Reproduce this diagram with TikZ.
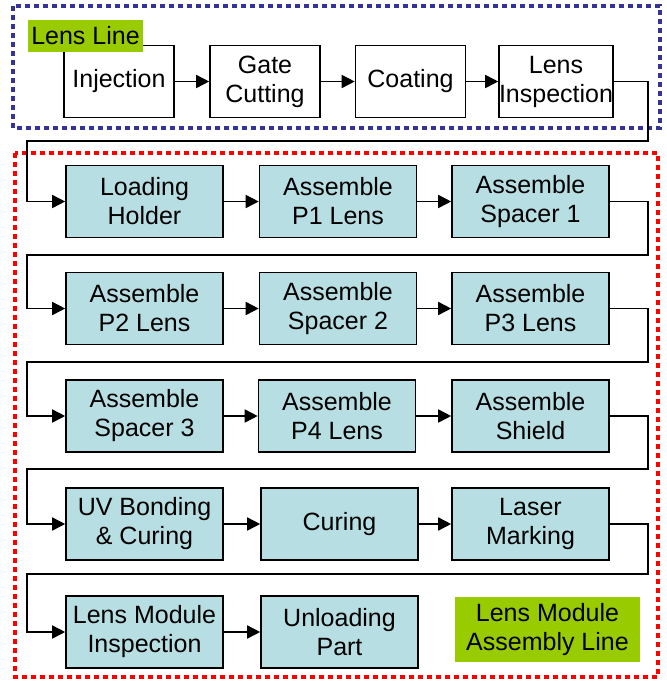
\documentclass[tikz,border=0pt]{standalone}
\usepackage{fontspec}
\setmainfont{Liberation Sans}
\usetikzlibrary{arrows.meta}
\definecolor{boxblue}{RGB}{183,222,226}
\definecolor{labelgreen}{RGB}{153,204,0}
\definecolor{lineblue}{RGB}{51,51,153}
\begin{document}
\begin{tikzpicture}[x=0.5pt,y=-0.5pt,
    font=\fontsize{12.5}{14.5}\selectfont,
    lensbox/.style={draw,line width=0.8pt,minimum width=55pt,minimum height=36pt,align=center,inner sep=0pt},
    modbox/.style={lensbox,fill=boxblue,minimum width=78.5pt},
    tag/.style={fill=labelgreen,align=center,inner sep=0pt},
    flow/.style={line width=0.8pt,-{Triangle[length=6.5pt,width=6.5pt]}},
    dotline/.style={line width=2.4pt,dash pattern=on 2.3pt off 2.2pt}]
    \useasboundingbox (0,0) rectangle (666,681);

    % line frames
    \draw[dotline,lineblue] (13,6) rectangle (660,128);
    \draw[dotline,red] (15,153) rectangle (658,677);

    % lens line
    \node[lensbox] (inj) at (119,81.5) {Injection};
    \node[lensbox] (gate) at (265,81.5) {Gate\\Cutting};
    \node[lensbox] (coat) at (410.5,81.5) {Coating};
    \node[lensbox] (insp) at (556,81.5) {Lens\\Inspection};
    \node[tag,minimum width=57.5pt,minimum height=16pt] (lensline) at (85.5,36) {Lens Line};

    % assembly line
    \node[modbox] (load) at (144.5,201.5) {Loading\\Holder};
    \node[modbox] (pone) at (338,201.5) {Assemble\\P1 Lens};
    \node[modbox] (spone) at (530.5,201.5) {Assemble\\Spacer 1};
    \node[modbox] (ptwo) at (144.5,308.5) {Assemble\\P2 Lens};
    \node[modbox] (sptwo) at (338,308.5) {Assemble\\Spacer 2};
    \node[modbox] (pthree) at (530.5,308.5) {Assemble\\P3 Lens};
    \node[modbox] (spthree) at (144.5,416) {Assemble\\Spacer 3};
    \node[modbox] (pfour) at (337,416) {Assemble\\P4 Lens};
    \node[modbox] (shield) at (530.5,416) {Assemble\\Shield};
    \node[modbox] (uv) at (144.5,524) {UV Bonding\\\& Curing};
    \node[modbox] (cure) at (339.5,524) {Curing};
    \node[modbox] (laser) at (530.5,524) {Laser\\Marking};
    \node[modbox] (modinsp) at (144.5,632) {Lens Module\\Inspection};
    \node[modbox] (unload) at (339.5,632) {Unloading\\Part};
    \node[tag,minimum width=92.5pt,minimum height=32.5pt] (asmline) at (547.5,629.5) {Lens Module\\Assembly Line};

    \draw[flow] (inj) -- (gate);
    \draw[flow] (gate) -- (coat);
    \draw[flow] (coat) -- (insp);
    \draw[flow] (load) -- (pone);
    \draw[flow] (pone) -- (spone);
    \draw[flow] (ptwo) -- (sptwo);
    \draw[flow] (sptwo) -- (pthree);
    \draw[flow] (spthree) -- (pfour);
    \draw[flow] (pfour) -- (shield);
    \draw[flow] (uv) -- (cure);
    \draw[flow] (cure) -- (laser);
    \draw[flow] (modinsp) -- (unload);

    % turns between rows
    \coordinate (ra) at (648,141);  \coordinate (la) at (27,141);
    \coordinate (rb) at (648,255);  \coordinate (lb) at (27,255);
    \coordinate (rc) at (648,362);  \coordinate (lc) at (27,362);
    \coordinate (rd) at (648,469);  \coordinate (ld) at (27,469);
    \coordinate (re) at (648,574);  \coordinate (le) at (27,574);
    \draw[flow] (insp.east) -| (ra) -- (la) |- (load.west);
    \draw[flow] (spone.east) -| (rb) -- (lb) |- (ptwo.west);
    \draw[flow] (pthree.east) -| (rc) -- (lc) |- (spthree.west);
    \draw[flow] (shield.east) -| (rd) -- (ld) |- (uv.west);
    \draw[flow] (laser.east) -| (re) -- (le) |- (modinsp.west);
\end{tikzpicture}
\end{document}
